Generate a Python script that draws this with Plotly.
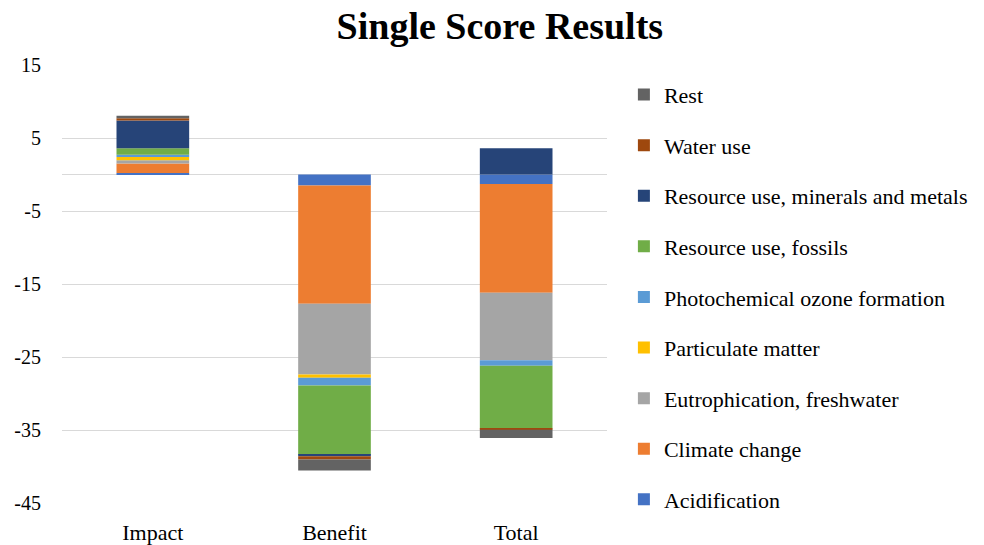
import plotly.graph_objects as go

categories = ["Impact", "Benefit", "Total"]
series_names = ["Acidification", "Climate change", "Eutrophication, freshwater",
                "Particulate matter", "Photochemical ozone formation",
                "Resource use, fossils", "Resource use, minerals and metals",
                "Water use", "Rest"]
colors = ["#4472C4", "#ED7D31", "#A5A5A5", "#FFC000", "#5B9BD5",
          "#70AD47", "#264478", "#9E480E", "#636363"]

acidification = [0.2, -1.5, -1.3]
climate_change = [1.3, -16.2, -14.9]
eutrophication = [0.45, -9.7, -9.25]
particulate = [0.45, -0.45, 0.0]
photochemical = [0.3, -1.05, -0.75]
fossils = [0.9, -9.5, -8.6]
minerals = [3.8, -0.2, 3.6]
water_use = [0.3, -0.45, -0.15]
rest = [0.35, -1.5, -1.15]

series_values = [acidification, climate_change, eutrophication, particulate,
                 photochemical, fossils, minerals, water_use, rest]

y_ticks = [15, 5, -5, -15, -25, -35, -45]

FONT = "Liberation Serif"

fig = go.Figure()
n = len(series_names)
for i, (name, vals, col) in enumerate(zip(series_names, series_values, colors)):
    fig.add_trace(go.Bar(
        x=categories, y=vals, name=name, legendgroup=f"g{i}",
        legendrank=100 + (n - i),
        marker=dict(color=col, line=dict(width=0)),
    ))

fig.update_layout(
    barmode="relative",
    bargap=0.6,
    width=984, height=545,
    margin=dict(l=62, r=377, t=65, b=42, autoexpand=False),
    paper_bgcolor="white", plot_bgcolor="white",
    font=dict(family=FONT, size=18, color="#000000"),
    title=dict(text="<b>Single Score Results</b>", x=0.508, xanchor="center",
               y=0.953, yanchor="middle", font=dict(family=FONT, size=38, color="#000000")),
    legend=dict(x=1.031, xanchor="left", y=0.98, yanchor="top",
                traceorder="grouped", tracegroupgap=19, maxheight=520,
                font=dict(family=FONT, size=22, color="#000000")),
    showlegend=True,
)
fig.update_yaxes(range=[-45, 15], tickvals=y_ticks, ticktext=[str(v) for v in y_ticks],
                 automargin=False,
                 showgrid=True, gridcolor="#D9D9D9", gridwidth=1,
                 zeroline=True, zerolinecolor="#D9D9D9", zerolinewidth=1,
                 showline=False, ticks="", ticklabelstandoff=20,
                 tickfont=dict(family=FONT, size=20, color="#000000"))
fig.update_xaxes(showgrid=False, showline=False, ticks="", ticklabelstandoff=14,
                 automargin=False,
                 tickfont=dict(family=FONT, size=22, color="#000000"))

fig.write_html("out.html", config={"displayModeBar": False},
               post_script="document.body.style.margin='0';document.body.style.overflow='hidden';")
